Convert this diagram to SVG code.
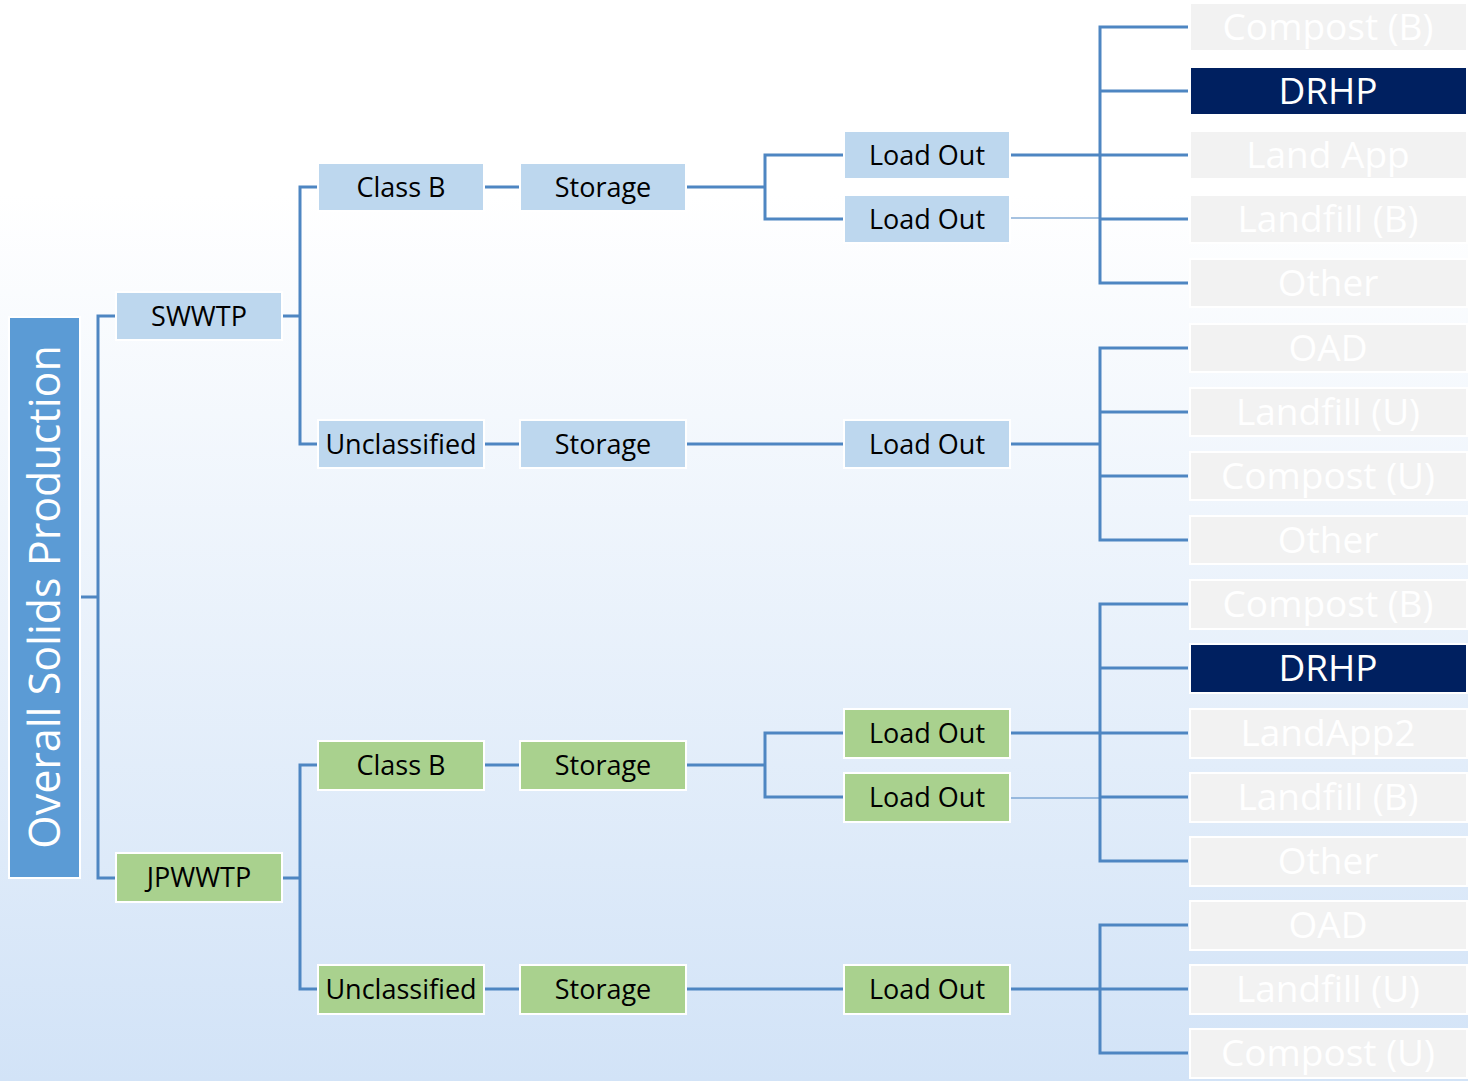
<svg xmlns="http://www.w3.org/2000/svg" width="1468" height="1081" viewBox="0 0 1468 1081">
<defs>
<linearGradient id="bg" x1="0" y1="0" x2="0" y2="1">
<stop offset="0" stop-color="#ffffff"/>
<stop offset="0.18" stop-color="#ffffff"/>
<stop offset="1" stop-color="#d2e3f7"/>
</linearGradient>
<style>
.b{fill:#bdd7ee;stroke:#ffffff;stroke-width:2}
.g{fill:#a9d18e;stroke:#ffffff;stroke-width:2}
.x{fill:#f2f2f2;stroke:#ffffff;stroke-width:2}
.d{fill:#002060;stroke:#ffffff;stroke-width:2}
.t{font-family:"Open Sans","Noto Sans",sans-serif;font-size:27px;fill:#000000;text-anchor:middle}
.w{font-family:"Open Sans","Noto Sans",sans-serif;font-size:37px;fill:#ffffff;text-anchor:middle}
.c path{fill:none;stroke:#4e86c2;stroke-width:3}
.c path.thin{stroke-width:1}
</style>
</defs>
<rect x="0" y="0" width="1468" height="1081" fill="url(#bg)"/>
<g class="c" id="connectors">
<path d="M80,597H98M116,316H98V878H116"/>
<path d="M282,316H300M318,187H300V444H318"/>
<path d="M282,878H300M318,765H300V989H318"/>
<path d="M484,187H520M484,444H520M484,765H520M484,989H520"/>
<path d="M686,187H765M844,155H765V219H844"/>
<path d="M686,444H844"/>
<path d="M686,765H765M844,733H765V797H844"/>
<path d="M686,989H844"/>
<path d="M1010,155H1100M1188,27H1100V283H1188M1100,91H1188M1100,155H1188M1100,219H1188"/>
<path class="thin" d="M1010,218H1100"/>
<path d="M1010,444H1100M1188,348H1100V540H1188M1100,412H1188M1100,476H1188"/>
<path d="M1010,733H1100M1188,604H1100V861H1188M1100,668H1188M1100,733H1188M1100,797H1188"/>
<path class="thin" d="M1010,798H1100"/>
<path d="M1010,989H1100M1188,925H1100V1053H1188M1100,989H1188"/>
</g>
<g id="root"><rect x="9" y="317" width="71" height="561" fill="#5b9bd5" stroke="#ffffff" stroke-width="2"/><text transform="translate(45,597) rotate(-90)" y="15" font-family="'Open Sans','Noto Sans',sans-serif" font-size="43" fill="#ffffff" text-anchor="middle">Overall Solids Production</text></g>
<g id="swwtp"><rect class="b" x="116" y="292" width="166" height="48"/><text class="t" x="199" y="326">SWWTP</text></g>
<g id="s-classb"><rect class="b" x="318" y="163" width="166" height="48"/><text class="t" x="401" y="197">Class B</text></g>
<g id="s-storage1"><rect class="b" x="520" y="163" width="166" height="48"/><text class="t" x="603" y="197">Storage</text></g>
<g id="s-loadout1"><rect class="b" x="844" y="131" width="166" height="48"/><text class="t" x="927" y="165">Load Out</text></g>
<g id="s-loadout2"><rect class="b" x="844" y="195" width="166" height="48"/><text class="t" x="927" y="229">Load Out</text></g>
<g id="s-unclassified"><rect class="b" x="318" y="420" width="166" height="48"/><text class="t" x="401" y="454">Unclassified</text></g>
<g id="s-storage2"><rect class="b" x="520" y="420" width="166" height="48"/><text class="t" x="603" y="454">Storage</text></g>
<g id="s-loadout3"><rect class="b" x="844" y="420" width="166" height="48"/><text class="t" x="927" y="454">Load Out</text></g>
<g id="jpwwtp"><rect class="g" x="116" y="853" width="166" height="49"/><text class="t" x="199" y="887">JPWWTP</text></g>
<g id="j-classb"><rect class="g" x="318" y="741" width="166" height="49"/><text class="t" x="401" y="775">Class B</text></g>
<g id="j-storage1"><rect class="g" x="520" y="741" width="166" height="49"/><text class="t" x="603" y="775">Storage</text></g>
<g id="j-loadout1"><rect class="g" x="844" y="709" width="166" height="49"/><text class="t" x="927" y="743">Load Out</text></g>
<g id="j-loadout2"><rect class="g" x="844" y="773" width="166" height="49"/><text class="t" x="927" y="807">Load Out</text></g>
<g id="j-unclassified"><rect class="g" x="318" y="965" width="166" height="49"/><text class="t" x="401" y="999">Unclassified</text></g>
<g id="j-storage2"><rect class="g" x="520" y="965" width="166" height="49"/><text class="t" x="603" y="999">Storage</text></g>
<g id="j-loadout3"><rect class="g" x="844" y="965" width="166" height="49"/><text class="t" x="927" y="999">Load Out</text></g>
<g id="d1"><rect class="x" x="1190" y="3" width="277" height="48"/><text class="w" x="1328" y="40">Compost (B)</text></g>
<g id="d2"><rect class="d" x="1190" y="67" width="277" height="48"/><text class="w" x="1328" y="104">DRHP</text></g>
<g id="d3"><rect class="x" x="1190" y="131" width="277" height="48"/><text class="w" x="1328" y="168">Land App</text></g>
<g id="d4"><rect class="x" x="1190" y="195" width="277" height="48"/><text class="w" x="1328" y="232">Landfill (B)</text></g>
<g id="d5"><rect class="x" x="1190" y="259" width="277" height="48"/><text class="w" x="1328" y="296">Other</text></g>
<g id="d6"><rect class="x" x="1190" y="324" width="277" height="48"/><text class="w" x="1328" y="361">OAD</text></g>
<g id="d7"><rect class="x" x="1190" y="388" width="277" height="48"/><text class="w" x="1328" y="425">Landfill (U)</text></g>
<g id="d8"><rect class="x" x="1190" y="452" width="277" height="48"/><text class="w" x="1328" y="489">Compost (U)</text></g>
<g id="d9"><rect class="x" x="1190" y="516" width="277" height="48"/><text class="w" x="1328" y="553">Other</text></g>
<g id="d10"><rect class="x" x="1190" y="580" width="277" height="49"/><text class="w" x="1328" y="617">Compost (B)</text></g>
<g id="d11"><rect class="d" x="1190" y="644" width="277" height="49"/><text class="w" x="1328" y="681">DRHP</text></g>
<g id="d12"><rect class="x" x="1190" y="709" width="277" height="49"/><text class="w" x="1328" y="746">LandApp2</text></g>
<g id="d13"><rect class="x" x="1190" y="773" width="277" height="49"/><text class="w" x="1328" y="810">Landfill (B)</text></g>
<g id="d14"><rect class="x" x="1190" y="837" width="277" height="49"/><text class="w" x="1328" y="874">Other</text></g>
<g id="d15"><rect class="x" x="1190" y="901" width="277" height="49"/><text class="w" x="1328" y="938">OAD</text></g>
<g id="d16"><rect class="x" x="1190" y="965" width="277" height="49"/><text class="w" x="1328" y="1002">Landfill (U)</text></g>
<g id="d17"><rect class="x" x="1190" y="1029" width="277" height="49"/><text class="w" x="1328" y="1066">Compost (U)</text></g>
</svg>
